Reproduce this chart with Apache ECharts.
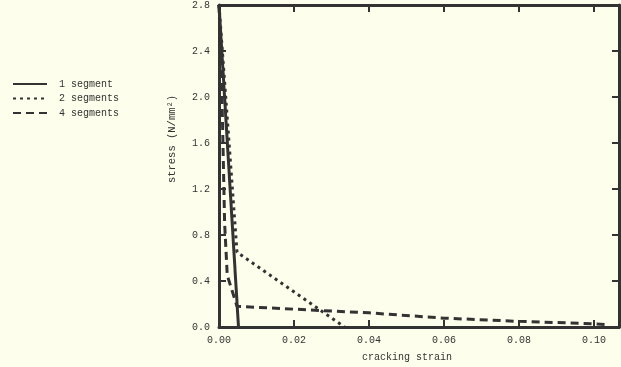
<!DOCTYPE html>
<html><head><meta charset="utf-8">
<script src="https://cdn.jsdelivr.net/npm/echarts@6/dist/echarts.min.js"></script>
<style>html,body{margin:0;padding:0;background:#FEFEEC}#c{width:621px;height:367px}</style>
</head><body><div id="c"></div>
<script>
const seriesNames = ['1 segment', '2 segments', '4 segments'];
const oneSegment = [[0, 2.8], [0.0052, 0]];
const twoSegments = [[0, 2.8], [0.0048, 0.65], [0.0335, 0]];
const fourSegments = [[0, 2.8], [0.0008, 2.0], [0.0015, 0.9], [0.0022, 0.45], [0.0048, 0.18], [0.02, 0.155], [0.04, 0.123], [0.06, 0.077], [0.08, 0.049], [0.10, 0.028], [0.1035, 0.02]];
const xTicks = [0, 0.02, 0.04, 0.06, 0.08, 0.10];
const yTicks = [0, 0.4, 0.8, 1.2, 1.6, 2.0, 2.4, 2.8];

const ink = '#333333';
const font = 'Liberation Mono';
const chart = echarts.init(document.getElementById('c'));
const axisLine = {show: true, onZero: false, lineStyle: {color: ink, width: 3}};
const axisTick = {show: true, inside: true, length: 7, lineStyle: {color: ink, width: 2}};
const lbl = {color: ink, fontFamily: font, fontSize: 10};
chart.setOption({
  backgroundColor: '#FEFEEC',
  animation: false,
  grid: {left: 219, right: 2, top: 4, bottom: 37},
  legend: {
    orient: 'vertical', left: 12, top: 79, padding: 0, itemWidth: 34, itemHeight: 10, itemGap: 4.5,
    itemStyle: {opacity: 0, color: 'transparent', borderWidth: 0},
    textStyle: {color: ink, fontFamily: font, fontSize: 10, padding: [0, 0, 0, 7]},
    data: seriesNames
  },
  xAxis: [{
    type: 'value', min: 0, max: 0.1067, interval: 0.02,
    axisLine, axisTick, splitLine: {show: false},
    axisLabel: Object.assign({}, lbl, {margin: 8, showMaxLabel: false,
      formatter: v => xTicks.some(t => Math.abs(t - v) < 1e-9) ? v.toFixed(2) : ''}),
    name: 'cracking strain', nameLocation: 'middle', nameGap: 25,
    nameTextStyle: {color: ink, fontFamily: font, fontSize: 10, padding: [0, 24, 0, 0]}
  }, {
    type: 'value', position: 'top', min: 0, max: 0.1067, interval: 0.02,
    axisLine, axisTick, axisLabel: {show: false}, splitLine: {show: false}
  }],
  yAxis: [{
    type: 'value', min: 0, max: 2.8, interval: 0.4,
    axisLine, axisTick, splitLine: {show: false},
    axisLabel: Object.assign({}, lbl, {margin: 9,
      formatter: v => yTicks.some(t => Math.abs(t - v) < 1e-9) ? v.toFixed(1) : ''}),
    name: 'stress (N/mm²)', nameLocation: 'middle', nameGap: 41,
    nameTextStyle: {color: ink, fontFamily: font, fontSize: 10.5, padding: [0, 0, 0, 54]}
  }, {
    type: 'value', position: 'right', min: 0, max: 2.8, interval: 0.4,
    axisLine, axisTick, axisLabel: {show: false}, splitLine: {show: false}
  }],
  series: [
    {name: seriesNames[0], type: 'line', data: oneSegment, symbol: 'none',
     lineStyle: {color: ink, width: 3, type: 'solid'}, itemStyle: {color: ink}},
    {name: seriesNames[1], type: 'line', data: twoSegments, symbol: 'none',
     lineStyle: {color: ink, width: 3, type: [3, 4]}, itemStyle: {color: ink}},
    {name: seriesNames[2], type: 'line', data: fourSegments, symbol: 'none',
     lineStyle: {color: ink, width: 3, type: [8, 5]}, itemStyle: {color: ink}}
  ]
});
</script></body></html>
